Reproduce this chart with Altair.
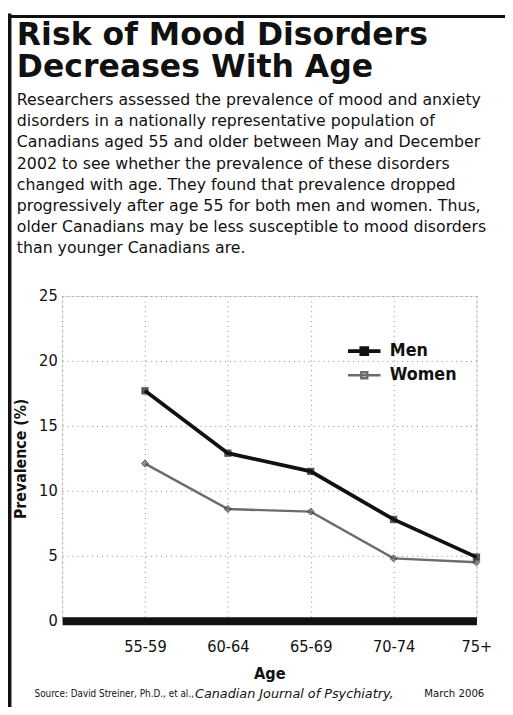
import altair as alt
import pandas as pd

# ---- data ----
ages = ["55-59", "60-64", "65-69", "70-74", "75+"]
men = [17.7, 12.9, 11.5, 7.8, 4.9]
women = [12.1, 8.6, 8.4, 4.8, 4.5]
series = ["Men", "Women"]
y_ticks = [0, 5, 10, 15, 20, 25]

title_lines = ["Risk of Mood Disorders", "Decreases With Age"]
body_lines = [
    "Researchers assessed the prevalence of mood and anxiety",
    "disorders in a nationally representative population of",
    "Canadians aged 55 and older between May and December",
    "2002 to see whether the prevalence of these disorders",
    "changed with age. They found that prevalence dropped",
    "progressively after age 55 for both men and women. Thus,",
    "older Canadians may be less susceptible to mood disorders",
    "than younger Canadians are.",
]
source_parts = ["Source: David Streiner, Ph.D., et al.,", "Canadian Journal of Psychiatry,", "March 2006"]

rows = []
for a, m, w in zip(ages, men, women):
    rows.append({"Age": a, "Sex": "Men", "Prevalence": m})
    rows.append({"Age": a, "Sex": "Women", "Prevalence": w})
df = pd.DataFrame(rows)

x_domain = [" "] + ages
COND = "DejaVu Sans Condensed"
INK = "#111111"
GRAY = "#6c6c6c"

color_scale = alt.Scale(domain=series, range=[INK, GRAY])

x_enc = alt.X(
    "Age:O",
    scale=alt.Scale(domain=x_domain, type="point", padding=0),
    sort=x_domain,
    axis=alt.Axis(
        title="Age", labelAngle=0, ticks=False, domainColor=INK, domainWidth=8,
        grid=True, gridDash=[1, 4], gridColor="#8a8a8a", gridWidth=1,
        labelFont=COND, labelFontSize=16.5, labelColor=INK, labelPadding=18,
        titleFont=COND, titleFontSize=16.5, titleFontWeight="bold", titleColor=INK,
        titlePadding=11,
    ),
)
y_enc = alt.Y(
    "Prevalence:Q",
    scale=alt.Scale(domain=[0, 25], nice=False),
    axis=alt.Axis(
        title="Prevalence (%)", values=y_ticks, ticks=False, domain=False,
        grid=True, gridDash=[1, 4], gridColor="#8a8a8a", gridWidth=1,
        labelFont=COND, labelFontSize=16.5, labelColor=INK, labelPadding=5,
        titleFont=COND, titleFontSize=16, titleFontWeight="bold", titleColor=INK,
        titlePadding=10,
    ),
)

base = alt.Chart(df)

lines = base.mark_line().encode(
    x=x_enc,
    y=y_enc,
    color=alt.Color(
        "Sex:N", scale=color_scale,
        legend=alt.Legend(
            title=None, orient="none", legendX=295, legendY=44, padding=0,
            symbolType="M-1.65,0H1.65M-0.3,-0.3h0.6v0.6h-0.6z", symbolSize=400,
            symbolStrokeWidth=2.5, labelFont=COND, labelFontSize=18,
            labelFontWeight="bold", labelColor=INK, rowPadding=2, labelOffset=14,
        ),
    ),
    strokeWidth=alt.StrokeWidth("Sex:N", scale=alt.Scale(domain=series, range=[3.8, 2.5]), legend=None),
)

pts_men = base.transform_filter(alt.datum.Sex == "Men").mark_point(
    filled=True, size=55, shape="square", color=INK
).encode(x=alt.X("Age:O", sort=x_domain), y="Prevalence:Q")
pts_women = base.transform_filter(alt.datum.Sex == "Women").mark_point(
    filled=True, size=50, shape="diamond", color=GRAY, stroke=INK, strokeWidth=1
).encode(x=alt.X("Age:O", sort=x_domain), y="Prevalence:Q")

one = pd.DataFrame({"k": [0]})
frame_left = alt.Chart(one).mark_rule(color=INK, strokeWidth=5).encode(
    x=alt.value(-54), y=alt.value(-287), y2=alt.value(420)
)
frame_top = alt.Chart(one).mark_rule(color=INK, strokeWidth=3).encode(
    x=alt.value(-56), x2=alt.value(460), y=alt.value(-284)
)

title_mark = alt.Chart(one).mark_text(
    align="left", baseline="alphabetic", font="DejaVu Sans", fontSize=32,
    fontWeight="bold", lineHeight=33, color=INK,
).encode(text=alt.value(title_lines), x=alt.value(-46), y=alt.value(-255))

body_mark = alt.Chart(one).mark_text(
    align="left", baseline="alphabetic", font="DejaVu Sans", fontSize=16,
    lineHeight=21.5, color=INK,
).encode(text=alt.value(body_lines), x=alt.value(-46), y=alt.value(-194))

src_x = [-28, 135, 429]
src_style = ["normal", "italic", "normal"]
src_font = [COND, "DejaVu Sans", COND]
src_size = [10, 13, 11.5]
src_align = ["left", "left", "right"]
src_layers = []
for txt, sx, st, fn, fs, al in zip(source_parts, src_x, src_style, src_font, src_size, src_align):
    src_layers.append(
        alt.Chart(pd.DataFrame({"t": [txt]})).mark_text(
            align=al, baseline="middle", font=fn, fontSize=fs,
            fontStyle=st, color=INK,
        ).encode(text="t:N", x=alt.value(sx), y=alt.value(404))
    )

chart = alt.layer(
    lines, pts_men, pts_women, frame_left, frame_top, title_mark, body_mark, *src_layers
).properties(
    width=421,
    height=330,
    autosize=alt.AutoSizeParams(type="none"),
    padding={"left": 55, "top": 287, "right": 29, "bottom": 82},
).configure_view(strokeWidth=0).configure(background="white")

chart.save("out.html", embed_options={"renderer": "svg", "actions": False})
